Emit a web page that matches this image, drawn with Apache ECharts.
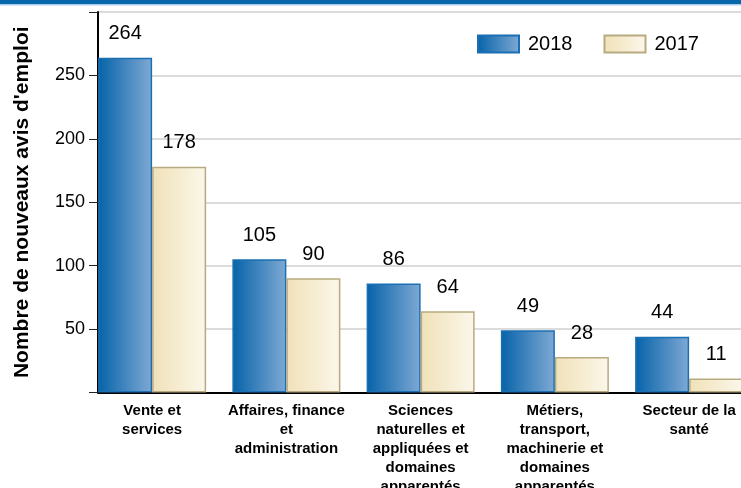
<!DOCTYPE html>
<html><head><meta charset="utf-8">
<script src="https://cdn.jsdelivr.net/npm/echarts@6/dist/echarts.min.js"></script>
<style>html,body{margin:0;padding:0;background:#fff}#c{width:741px;height:488px}</style>
</head><body><div id="c"></div>
<script>
const categories = ['Vente et\nservices', 'Affaires, finance\net\nadministration', 'Sciences\nnaturelles et\nappliquées et\ndomaines\napparentés', 'Métiers,\ntransport,\nmachinerie et\ndomaines\napparentés', 'Secteur de la\nsanté'];
const values2018 = [264, 105, 86, 49, 44];
const values2017 = [178, 90, 64, 28, 11];
const seriesNames = ['2018', '2017'];
const yAxisName = "Nombre de nouveaux avis d'emploi";
const yMin = 0, yMax = 300, yStep = 50;
const hiddenTickLabels = [0, 300];

const FONT = "'Liberation Sans', Arial, sans-serif";
const blueGrad = new echarts.graphic.LinearGradient(0, 0, 1, 0, [
  {offset: 0, color: '#0663a9'}, {offset: 1, color: '#7fa9d4'}]);
const beigeGrad = new echarts.graphic.LinearGradient(0, 0, 1, 0, [
  {offset: 0, color: '#f0e1b8'}, {offset: 1, color: '#fbf7ea'}]);

const chart = echarts.init(document.getElementById('c'), null, {renderer: 'canvas'});
const labelCfg = {show: true, position: 'top', distance: 14, fontSize: 20, color: '#000', fontFamily: FONT};
chart.setOption({
  animation: false,
  backgroundColor: '#fff',
  textStyle: {fontFamily: FONT},
  graphic: [
    {type: 'rect', shape: {x: 0, y: 0, width: 741, height: 4}, style: {fill: '#0867aa'}, z: 100},
    {type: 'rect', shape: {x: 0, y: 4, width: 741, height: 1.5}, style: {fill: '#a9cbe8'}, z: 100}
  ],
  legend: {
    left: 477, top: 34, padding: 0, itemWidth: 41, itemHeight: 17, itemGap: 31, icon: 'rect',
    textStyle: {fontSize: 20, color: '#000', fontFamily: FONT, padding: [0, 0, 0, 4]},
    data: seriesNames
  },
  grid: [
    {left: 85, top: 12, width: 671.25, height: 380.5, containLabel: false, outerBoundsMode: 'none'},
    {left: 98, top: 12, width: 643, height: 380.5, containLabel: false, outerBoundsMode: 'none'}
  ],
  xAxis: [{
    type: 'category', data: categories, gridIndex: 0,
    axisLine: {show: false},
    axisTick: {alignWithLabel: true, length: 5, lineStyle: {color: '#888'}},
    axisLabel: {fontSize: 15, fontWeight: 'bold', color: '#000', lineHeight: 19, margin: 9, interval: 0, fontFamily: FONT}
  }, {
    type: 'value', gridIndex: 1, min: 0, max: 1,
    axisLine: {show: true, onZero: false, lineStyle: {color: '#000', width: 2}},
    axisTick: {show: false}, axisLabel: {show: false}, splitLine: {show: false}
  }],
  yAxis: [{
    type: 'value', gridIndex: 0, min: yMin, max: yMax, interval: yStep, show: false
  }, {
    type: 'value', gridIndex: 1, min: yMin, max: yMax, interval: yStep,
    name: yAxisName, nameLocation: 'middle', nameGap: 65,
    nameTextStyle: {fontSize: 21, fontWeight: 'bold', color: '#000', fontFamily: FONT},
    axisLine: {show: true, lineStyle: {color: '#000', width: 2}},
    axisTick: {show: true, length: 9, lineStyle: {color: '#222', width: 1}},
    axisLabel: {fontSize: 18, color: '#000', margin: 13, fontFamily: FONT,
      formatter: v => hiddenTickLabels.includes(v) ? '' : String(v)},
    splitLine: {lineStyle: {color: '#dcdcdc', width: 2}}
  }],
  series: [
    {name: seriesNames[0], type: 'bar', xAxisIndex: 0, yAxisIndex: 0, data: values2018, barWidth: 54, barGap: '0%',
      itemStyle: {color: blueGrad, borderColor: '#1b6fb3', borderWidth: 1.5}, label: labelCfg},
    {name: seriesNames[1], type: 'bar', xAxisIndex: 0, yAxisIndex: 0, data: values2017, barWidth: 54, barGap: '0%',
      itemStyle: {color: beigeGrad, borderColor: '#b8aa80', borderWidth: 1.5}, label: labelCfg}
  ]
});
</script></body></html>
